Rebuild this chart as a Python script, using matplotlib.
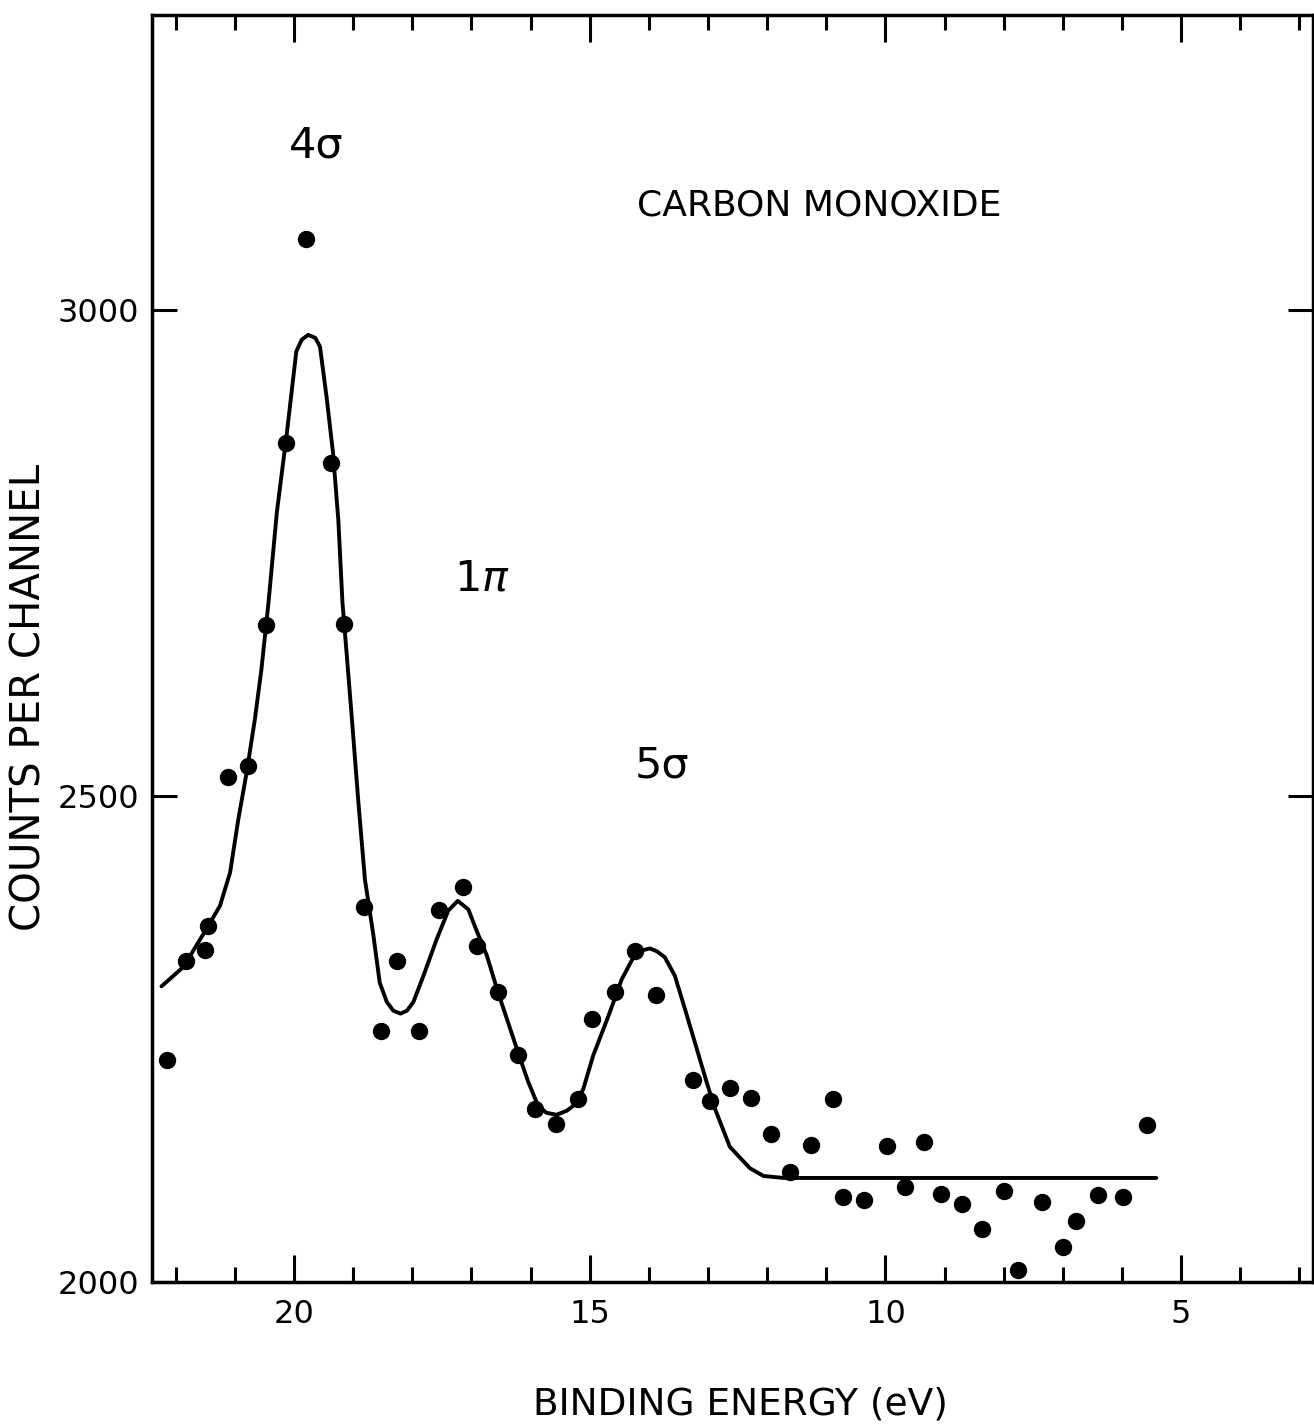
import matplotlib
matplotlib.use('Agg')
import matplotlib.pyplot as plt
from matplotlib.ticker import FixedLocator, MultipleLocator

# ---- data ----
energy_pts = [22.15, 21.83, 21.51, 21.46, 21.12, 20.77, 20.47, 20.14, 19.79, 19.37,
              19.15, 18.82, 18.53, 18.25, 17.88, 17.55, 17.15, 16.90, 16.55, 16.21,
              15.92, 15.57, 15.19, 14.96, 14.57, 14.23, 13.87, 13.25, 12.96, 12.62,
              12.27, 11.93, 11.61, 11.25, 10.89, 10.71, 10.37, 9.98, 9.67, 9.35,
              9.06, 8.71, 8.36, 7.99, 7.75, 7.35, 7.00, 6.77, 6.41, 5.99, 5.58]
counts_pts = [2228, 2330, 2341, 2366, 2519, 2531, 2676, 2863, 3073, 2842,
              2677, 2386, 2258, 2330, 2258, 2383, 2406, 2346, 2298, 2233,
              2178, 2162, 2188, 2270, 2298, 2340, 2295, 2208, 2186, 2200,
              2189, 2152, 2113, 2141, 2188, 2087, 2084, 2140, 2098, 2144,
              2090, 2080, 2054, 2094, 2012, 2082, 2036, 2063, 2089, 2087, 2161]

fit_energy = [22.24, 21.87, 21.48, 21.25, 21.08, 20.94, 20.80, 20.66, 20.55, 20.43,
              20.29, 20.12, 19.96, 19.87, 19.76, 19.64, 19.56, 19.45, 19.34, 19.25,
              19.18, 19.11, 19.02, 18.91, 18.80, 18.66, 18.55, 18.43, 18.32, 18.20,
              18.09, 17.98, 17.81, 17.59, 17.39, 17.23, 17.05, 16.91, 16.74, 16.55,
              16.38, 16.21, 16.04, 15.87, 15.73, 15.56, 15.39, 15.28, 15.11, 14.94,
              14.68, 14.46, 14.26, 14.12, 13.98, 13.86, 13.73, 13.56, 13.39, 13.19,
              13.02, 12.88, 12.63, 12.29, 12.06, 11.72, 5.42]
fit_counts = [2304, 2324, 2363, 2387, 2421, 2476, 2524, 2579, 2630, 2699,
              2791, 2873, 2957, 2969, 2974, 2971, 2962, 2911, 2853, 2784,
              2699, 2647, 2579, 2493, 2414, 2358, 2308, 2288, 2279, 2276,
              2279, 2288, 2315, 2352, 2382, 2392, 2383, 2361, 2336, 2298,
              2267, 2236, 2206, 2181, 2174, 2172, 2176, 2181, 2198, 2233,
              2274, 2311, 2334, 2341, 2343, 2340, 2334, 2315, 2281, 2240,
              2205, 2178, 2139, 2117, 2109, 2107, 2107]

x_major = [5, 10, 15, 20]
x_major_labels = ['5', '10', '15', '20']
y_major = [2000, 2500, 3000]
y_major_labels = ['2000', '2500', '3000']

W, H = 1314, 1426
fig = plt.figure(figsize=(W / 100, H / 100), dpi=100)
fig.patch.set_facecolor('white')
L, R, T, B = 152, 1313, 15, 1282
ax = fig.add_axes([L / W, 1 - B / H, (R - L) / W, (B - T) / H])

ax.plot(fit_energy, fit_counts, color='black', lw=2.8, solid_capstyle='round',
        solid_joinstyle='round', zorder=2)
ax.plot(energy_pts, counts_pts, 'o', color='black', markersize=11.5, zorder=3)

ax.set_xlim(22.40, 2.77)
ax.set_ylim(2000, 3303)

ax.xaxis.set_major_locator(FixedLocator(x_major))
ax.set_xticklabels(x_major_labels)
ax.xaxis.set_minor_locator(MultipleLocator(1))
ax.yaxis.set_major_locator(FixedLocator(y_major))
ax.set_yticklabels(y_major_labels)
ax.yaxis.set_minor_locator(FixedLocator([]))

for s in ax.spines.values():
    s.set_linewidth(2.5)
    s.set_color('black')

ax.tick_params(axis='x', which='major', direction='in', top=True, bottom=True,
               length=19.5, width=2.2, pad=12, labelsize=23)
ax.tick_params(axis='x', which='minor', direction='in', top=True, bottom=True,
               length=11, width=2.2)
ax.tick_params(axis='y', which='major', direction='in', left=True, right=True,
               length=18, width=2.2, pad=9, labelsize=23)

fam = 'DejaVu Sans'
fig.text(30 / W, 1 - 697 / H, 'COUNTS PER CHANNEL', rotation=90, ha='center',
         va='center', fontsize=29, family=fam)
fig.text(740 / W, 1 - 1405 / H, 'BINDING ENERGY (eV)', ha='center', va='center',
         fontsize=27, family=fam)
fig.text(819 / W, 1 - 205 / H, 'CARBON MONOXIDE', ha='center', va='center',
         fontsize=26, family=fam)
fig.text(316 / W, 1 - 145 / H, '4σ', ha='center', va='center', fontsize=31,
         family=fam)
fig.text(482 / W, 1 - 579 / H, r'1$\pi$', ha='center', va='center', fontsize=31,
         family=fam)
fig.text(662 / W, 1 - 766 / H, '5σ', ha='center', va='center', fontsize=31,
         family=fam)

fig.savefig('out.png', dpi=100, facecolor='white')
